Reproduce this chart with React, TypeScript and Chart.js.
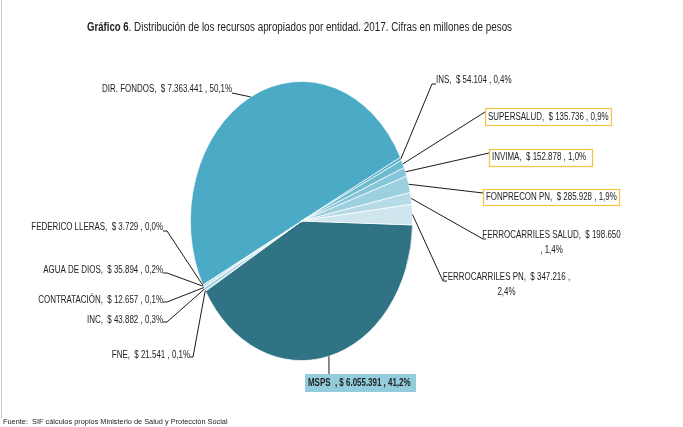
import { useEffect, useRef } from 'react';
import { Chart, registerables } from 'chart.js';

Chart.register(...registerables);

// ---------- data ----------
const categories = [
  'MSPS',
  'FNE',
  'INC',
  'CONTRATACIÓN',
  'AGUA DE DIOS',
  'FEDERICO LLERAS',
  'DIR. FONDOS',
  'INS',
  'SUPERSALUD',
  'INVIMA',
  'FONPRECON PN',
  'FERROCARRILES SALUD',
  'FERROCARRILES PN',
];
const values = [
  6055391, 21541, 43882, 12657, 35894, 3729, 7363441, 54104, 135736, 152878, 285928, 198650, 347216,
];
const sliceColors = [
  '#2F7385',
  '#7FC0D2',
  '#8CC7D7',
  '#9ACEDC',
  '#A8D5E1',
  '#B6DBE6',
  '#4BAAC5',
  '#58B1CA',
  '#6EBBD0',
  '#86C6D8',
  '#9DD0DF',
  '#B5DBE6',
  '#CFE6EE',
];
const titleBold = 'Gráfico 6';
const titleRest = '. Distribución de los recursos apropiados por entidad. 2017. Cifras en millones de pesos';
const footerText = 'Fuente:  SIF cálculos propios Ministerio de Salud y Protección Social';

// ---------- layout (positions / styles only) ----------
const ELLIPSE_SX = 0.796;
type Lay = {
  align: 'left' | 'right' | 'center';
  x: number;
  y: number;
  corner: [number, number];
  tick?: number;
  box?: 'gold' | 'fill';
  rect?: [number, number, number, number];
  split?: 'val' | 'comma';
  bold?: boolean;
  sep?: string;
};
const labelLayout: Lay[] = [
  { align: 'left', x: 308, y: 383, corner: [329, 374], box: 'fill', rect: [305, 374, 111, 18], bold: true, sep: '  , ' },
  { align: 'right', x: 190, y: 355, corner: [193, 357], tick: 190 },
  { align: 'right', x: 163, y: 320, corner: [167, 322], tick: 163 },
  { align: 'right', x: 163, y: 300, corner: [167, 302], tick: 163 },
  { align: 'right', x: 163, y: 270, corner: [167, 273], tick: 163 },
  { align: 'right', x: 163, y: 227, corner: [167, 231], tick: 163 },
  { align: 'right', x: 232, y: 89, corner: [232, 93] },
  { align: 'left', x: 436, y: 80, corner: [432, 84], tick: 436 },
  { align: 'left', x: 488, y: 117, corner: [485, 112], box: 'gold', rect: [485, 108, 126, 17] },
  { align: 'left', x: 492, y: 157, corner: [489, 153], box: 'gold', rect: [489, 149, 103, 17] },
  { align: 'left', x: 486, y: 197, corner: [483, 193], box: 'gold', rect: [483, 189, 136, 16] },
  { align: 'center', x: 551.5, y: 235, corner: [483, 239], tick: 486, split: 'val' },
  { align: 'center', x: 506.5, y: 277, corner: [443, 281], tick: 447, split: 'comma' },
];

const FAMILY = '"Liberation Sans", Arial, sans-serif';
const LABEL_FONT = '10px ' + FAMILY;
const LABEL_BOLD = 'bold 10px ' + FAMILY;
const LABEL_SX = 0.795;
const TEXT_COLOR = '#222222';

function fmtThousands(v: number): string {
  const s = String(Math.round(v));
  let out = '';
  for (let i = 0; i < s.length; i++) {
    if (i > 0 && (s.length - i) % 3 === 0) out += '.';
    out += s[i];
  }
  return out;
}

// draw text horizontally condensed (emulates a narrow face)
function narrowText(
  ctx: CanvasRenderingContext2D,
  text: string,
  x: number,
  y: number,
  align: 'left' | 'right' | 'center',
  sx: number,
): number {
  const w = ctx.measureText(text).width * sx;
  let left = x;
  if (align === 'right') left = x - w;
  else if (align === 'center') left = x - w / 2;
  ctx.save();
  ctx.textAlign = 'left';
  ctx.translate(left, y);
  ctx.scale(sx, 1);
  ctx.fillText(text, 0, 0);
  ctx.restore();
  return w;
}

const ellipsePlugin = {
  id: 'ellipsePie',
  beforeDatasetsDraw(chart: any) {
    const arc = chart.getDatasetMeta(0).data[0];
    const ctx = chart.ctx;
    ctx.save();
    ctx.translate(arc.x, 0);
    ctx.scale(ELLIPSE_SX, 1);
    ctx.translate(-arc.x, 0);
  },
  afterDatasetsDraw(chart: any) {
    chart.ctx.restore();
  },
};

const labelsPlugin = {
  id: 'excelLabels',
  afterDraw(chart: any) {
    const ctx: CanvasRenderingContext2D = chart.ctx;
    const total = values.reduce((a, b) => a + b, 0);
    const arcs = chart.getDatasetMeta(0).data;
    ctx.save();

    // frame line at the left
    ctx.strokeStyle = '#c8c8c8';
    ctx.lineWidth = 1;
    ctx.beginPath();
    ctx.moveTo(1.5, 0);
    ctx.lineTo(1.5, 418);
    ctx.stroke();

    // title
    ctx.fillStyle = TEXT_COLOR;
    ctx.textBaseline = 'middle';
    ctx.font = 'bold 12px ' + FAMILY;
    const bw = narrowText(ctx, titleBold, 87, 28, 'left', 0.8);
    ctx.font = '12px ' + FAMILY;
    narrowText(ctx, titleRest, 87 + bw, 28, 'left', 0.82);

    // footer
    ctx.font = '8px ' + FAMILY;
    narrowText(ctx, footerText, 3, 422, 'left', 0.92);

    categories.forEach((name, i) => {
      const lay = labelLayout[i];
      const arc = arcs[i];
      const mid = (arc.startAngle + arc.endAngle) / 2;
      const r = arc.outerRadius;
      const px = arc.x + Math.cos(mid) * r * ELLIPSE_SX;
      const py = arc.y + Math.sin(mid) * r;
      const pct = ((values[i] / total) * 100).toFixed(1).replace('.', ',');
      const sep = lay.sep ?? ',  ';
      const val = '$ ' + fmtThousands(values[i]);

      // leader line
      ctx.strokeStyle = '#1a1a1a';
      ctx.lineWidth = 1;
      ctx.beginPath();
      ctx.moveTo(px, py);
      ctx.lineTo(lay.corner[0], lay.corner[1]);
      if (lay.tick !== undefined) ctx.lineTo(lay.tick, lay.corner[1]);
      ctx.stroke();

      // box
      if (lay.rect) {
        const [bx, by, bwid, bh] = lay.rect;
        if (lay.box === 'fill') {
          ctx.fillStyle = '#93CDDD';
          ctx.fillRect(bx, by, bwid, bh);
        } else {
          ctx.fillStyle = '#ffffff';
          ctx.fillRect(bx, by, bwid, bh);
          ctx.strokeStyle = '#F5C242';
          ctx.lineWidth = 1.2;
          ctx.strokeRect(bx + 0.5, by + 0.5, bwid, bh);
        }
      }

      ctx.fillStyle = TEXT_COLOR;
      ctx.font = lay.bold ? LABEL_BOLD : LABEL_FONT;
      ctx.textBaseline = 'middle';
      let lines: string[];
      if (lay.split === 'val') lines = [name + sep + val, ', ' + pct + '%'];
      else if (lay.split === 'comma') lines = [name + sep + val + ' ,', pct + '%'];
      else lines = [name + sep + val + ' , ' + pct + '%'];
      lines.forEach((ln, k) => narrowText(ctx, ln, lay.x, lay.y + k * 15, lay.align, LABEL_SX));
    });
    ctx.restore();
  },
};

export default function App() {
  const ref = useRef<HTMLCanvasElement | null>(null);
  useEffect(() => {
    document.body.style.margin = '0';
    if (!ref.current) return;
    const chart = new Chart(ref.current, {
      type: 'pie',
      data: {
        labels: categories,
        datasets: [
          {
            data: values,
            backgroundColor: sliceColors,
            borderColor: '#ffffff',
            borderWidth: 0.8,
          },
        ],
      },
      options: {
        responsive: false,
        maintainAspectRatio: false,
        animation: false,
        events: [],
        rotation: 91.6,
        layout: { padding: { left: 161.5, right: 241.5, top: 81, bottom: 66 } },
        plugins: {
          legend: { display: false },
          tooltip: { enabled: false },
          title: { display: false },
        },
      },
      plugins: [ellipsePlugin, labelsPlugin],
    });
    return () => chart.destroy();
  }, []);
  return (
    <div style={{ position: 'fixed', left: 0, top: 0, width: 683, height: 427, background: '#fff' }}>
      <canvas ref={ref} width={683} height={427} style={{ display: 'block' }} />
    </div>
  );
}
